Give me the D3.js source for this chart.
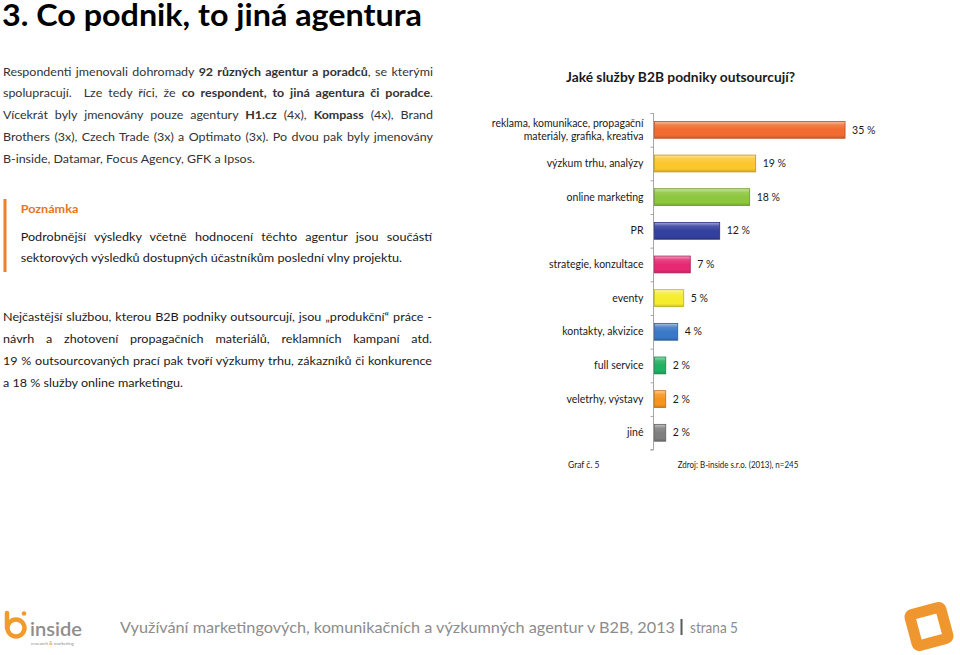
<!DOCTYPE html>
<html><head><meta charset="utf-8">
<script src="https://cdn.jsdelivr.net/npm/d3@7"></script>
<style>
html,body{margin:0;padding:0;background:#fff;}
svg{display:block;font-family:Lato,"Open Sans",sans-serif;}
text{white-space:pre;}
</style></head><body>
<svg id="c" width="960" height="655"></svg>
<script>
// ---------- data ----------
const categories = [
  "reklama, komunikace, propagační\nmateriály, grafika, kreativa",
  "výzkum trhu, analýzy",
  "online marketing",
  "PR",
  "strategie, konzultace",
  "eventy",
  "kontakty, akvizice",
  "full service",
  "veletrhy, výstavy",
  "jiné"
];
const values = [35.0, 18.6, 17.5, 12.0, 6.6, 5.4, 4.3, 2.1, 2.1, 2.1];
const valueLabels = ["35 %", "19 %", "18 %", "12 %", "7 %", "5 %", "4 %", "2 %", "2 %", "2 %"];
const barColors = ["#F26B30", "#FCC62E", "#8DC63F", "#3440A0", "#E52A73", "#F5EC2E", "#3B78C8", "#22B062", "#F7941E", "#7F7F7F"];
const chartTitle = "Jaké služby B2B podniky outsourcují?";
const pageTitle = "3. Co podnik, to jiná agentura";
const introLines = [
  [["Respondenti jmenovali dohromady ",0],["92 různých agentur a poradců",1],[", se kterými",0]],
  [["spolupracují.  Lze tedy říci, že ",0],["co respondent, to jiná agentura či poradce",1],[".",0]],
  [["Vícekrát byly jmenovány pouze agentury ",0],["H1.cz",1],[" (4x), ",0],["Kompass",1],[" (4x), Brand",0]],
  [["Brothers (3x), Czech Trade (3x) a Optimato (3x). Po dvou pak byly jmenovány",0]],
  [["B-inside, Datamar, Focus Agency, GFK a Ipsos.",0]]
];
const noteHeading = "Poznámka";
const noteLines = [
  [["Podrobnější výsledky včetně hodnocení těchto agentur jsou součástí",0]],
  [["sektorových výsledků dostupných účastníkům poslední vlny projektu.",0]]
];
const summaryLines = [
  [["Nejčastější službou, kterou B2B podniky outsourcují, jsou „produkční“ práce -",0]],
  [["návrh a zhotovení propagačních materiálů, reklamních kampaní atd.",0]],
  [["19 % outsourcovaných prací pak tvoří výzkumy trhu, zákazníků či konkurence",0]],
  [["a 18 % služby online marketingu.",0]]
];
const graphNo = "Graf č. 5";
const sourceText = "Zdroj: B-inside s.r.o. (2013), n=245";
const footerText = "Využívání marketingových, komunikačních a výzkumných agentur v B2B, 2013";
const footerPage = "strana 5";

// ---------- drawing ----------
const svg = d3.select("#c");
const defs = svg.append("defs");

// page title
svg.append("text").attr("x", 2).attr("y", 25.5)
  .style("font-size", "31px").style("font-weight", 700).attr("fill", "#000")
  .text(pageTitle).attr("textLength", 420).attr("lengthAdjust", "spacingAndGlyphs");

function para(lines, x0, width, y0, gap, fs, color, lastWidth) {
  const texts = lines.map((segs, i) => {
    const t = svg.append("text").attr("x", x0).attr("y", y0 + i * gap)
      .style("font-size", fs + "px").attr("fill", color);
    segs.forEach(([s, b]) => t.append("tspan").text(s).style("font-weight", b ? 700 : 400));
    return t;
  });
  const wLast = texts[texts.length - 1].node().getComputedTextLength();
  const f = lastWidth / wLast;
  texts.forEach((t, i) => {
    const w = t.node().getComputedTextLength();
    if (i < texts.length - 1) {
      const str = lines[i].map(s => s[0]).join("");
      const n = (str.match(/ /g) || []).length;
      const ws = (width / f - w) / n;
      t.style("word-spacing", ws + "px");
      t.attr("textLength", width).attr("lengthAdjust", "spacingAndGlyphs");
    } else {
      t.attr("textLength", lastWidth).attr("lengthAdjust", "spacingAndGlyphs");
    }
  });
}

para(introLines, 3, 430, 75.5, 21.9, 11.8, "#333", 252);

// note box
svg.append("rect").attr("x", 3.5).attr("y", 199).attr("width", 3).attr("height", 73).attr("fill", "#EE7F2D");
svg.append("text").attr("x", 20.7).attr("y", 212.7).style("font-size", "11.8px").style("font-weight", 700)
  .attr("fill", "#E8731E").text(noteHeading).attr("textLength", 57.6).attr("lengthAdjust", "spacingAndGlyphs");
para(noteLines, 20.7, 411.3, 240.5, 21.2, 11.8, "#1a1a1a", 381.3);

para(summaryLines, 3, 429, 320.7, 22, 11.8, "#1a1a1a", 180);

// ---------- chart ----------
const x = d3.scaleLinear().domain([0, 40]).range([654.3, 654.3 + 40 * 5.45]);
const y = d3.scaleBand().domain(categories).range([113, 449.6]).paddingInner(0.5).paddingOuter(0.25);

svg.append("text").attr("x", 680.5).attr("y", 81.7).attr("text-anchor", "middle")
  .style("font-size", "13px").style("font-weight", 700).attr("fill", "#1a1a1a")
  .text(chartTitle).attr("textLength", 229).attr("lengthAdjust", "spacingAndGlyphs");

// gradients
barColors.forEach((c, i) => {
  const g = defs.append("linearGradient").attr("id", "g" + i).attr("x1", 0).attr("y1", 0).attr("x2", 0).attr("y2", 1);
  const light = d3.interpolateRgb(c, "#fff");
  [[0, light(0.55)], [0.22, light(0.12)], [0.5, c], [0.82, c], [1, d3.color(c).darker(0.5)]]
    .forEach(([o, col]) => g.append("stop").attr("offset", o).attr("stop-color", col));
});

// axis
const axisG = svg.append("g").attr("transform", "translate(653.5,0)")
  .call(d3.axisLeft(d3.scaleLinear().domain([0, categories.length]).range([113, 449.6]))
    .ticks(categories.length).tickSize(3).tickFormat(""));
axisG.select(".domain").attr("stroke", "#a6a6a6").attr("d", "M-3,113.5H0V449.6H-3");
axisG.selectAll(".tick line").attr("stroke", "#a6a6a6");

// bars
svg.append("g").selectAll("rect").data(values).join("rect")
  .attr("x", x(0)).attr("y", (d, i) => y(categories[i]))
  .attr("width", d => x(d) - x(0)).attr("height", y.bandwidth())
  .attr("fill", (d, i) => `url(#g${i})`)
  .attr("stroke", (d, i) => d3.color(barColors[i]).darker(0.8))
  .attr("stroke-width", 0.8);

// category labels
const labG = svg.append("g").style("font-size", "10.5px").attr("fill", "#1a1a1a").attr("text-anchor", "end");
categories.forEach((c, i) => {
  const lines = c.split("\n");
  const cy = y(c) + y.bandwidth() / 2;
  lines.forEach((ln, j) => {
    labG.append("text").attr("x", 643.5).attr("y", cy + (j - (lines.length - 1) / 2) * 13.3)
      .attr("dy", "0.35em").text(ln);
  });
});

// value labels
svg.append("g").style("font-size", "10.5px").attr("fill", "#1a1a1a")
  .selectAll("text").data(values).join("text")
  .attr("x", d => x(d) + 7).attr("y", (d, i) => y(categories[i]) + y.bandwidth() / 2)
  .attr("dy", "0.35em").text((d, i) => valueLabels[i]);

// graph notes
svg.append("text").attr("x", 568).attr("y", 467.5).style("font-size", "8.5px").attr("fill", "#1a1a1a").text(graphNo);
svg.append("text").attr("x", 677.7).attr("y", 467.5).style("font-size", "8.5px").attr("fill", "#1a1a1a")
  .text(sourceText).attr("textLength", 120.6).attr("lengthAdjust", "spacingAndGlyphs");

// ---------- footer ----------
svg.append("text").attr("x", 120).attr("y", 632.5).style("font-size", "15px").attr("fill", "#8c8c8c")
  .text(footerText).attr("textLength", 555).attr("lengthAdjust", "spacingAndGlyphs");
svg.append("rect").attr("x", 680.5).attr("y", 619).attr("width", 2).attr("height", 16).attr("fill", "#595959");
svg.append("text").attr("x", 690).attr("y", 632.5).style("font-size", "15px").attr("fill", "#8c8c8c")
  .text(footerPage).attr("textLength", 48).attr("lengthAdjust", "spacingAndGlyphs");

// logo left
const lg = svg.append("g");
lg.append("path").attr("d", "M7,613 L7,628").attr("stroke", "#F39A2D").attr("stroke-width", 4.5).attr("stroke-linecap", "round").attr("fill", "none");
lg.append("circle").attr("cx", 16).attr("cy", 628).attr("r", 8.5).attr("stroke", "#F39A2D").attr("stroke-width", 4.5).attr("fill", "none");
lg.append("circle").attr("cx", 24).attr("cy", 613.5).attr("r", 2.3).attr("fill", "#F39A2D");
lg.append("text").attr("x", 30).attr("y", 636).style("font-size", "20px").style("font-weight", 600).attr("fill", "#8e8e8e")
  .text("inside").attr("textLength", 52).attr("lengthAdjust", "spacingAndGlyphs");
const sm = lg.append("text").attr("x", 31).attr("y", 644.5).style("font-size", "4.6px").attr("fill", "#8e8e8e");
sm.append("tspan").text("research ");
sm.append("tspan").text("&").attr("fill", "#F39A2D").style("font-weight", 700);
sm.append("tspan").text(" marketing");

// logo right
svg.append("g").attr("transform", "translate(929,626.5) rotate(-15)")
  .append("rect").attr("x", -16).attr("y", -16).attr("width", 32).attr("height", 32).attr("rx", 2.5)
  .attr("fill", "#fff").attr("stroke", "#F0962E").attr("stroke-width", 11).attr("stroke-linejoin", "round");
</script>
</body></html>
